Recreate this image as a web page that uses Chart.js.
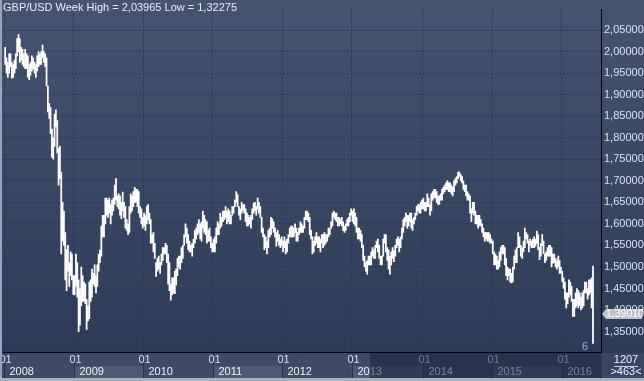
<!DOCTYPE html>
<html><head><meta charset="utf-8">
<script src="https://cdn.jsdelivr.net/npm/chart.js@4.4.1/dist/chart.umd.min.js"></script>
<style>html,body{margin:0;padding:0;background:#2f3c58;overflow:hidden}</style>
</head><body><canvas id="c" width="644" height="381"></canvas>
<script>
const titleText = 'GBP/USD Week High = 2,03965 Low = 1,32275';
const years = ['2008','2009','2010','2011','2012','2013','2014','2015','2016'];
const yearStart = [0,52,104,156,208,260,313,365,417];
const yTicks = [2.05,2.00,1.95,1.90,1.85,1.80,1.75,1.70,1.65,1.60,1.55,1.50,1.45,1.40,1.35];
const lastClose = 1.3901;
const barCount = '1207';
const barRange = '>463<';

const lows = [
// 2008
1.970,1.950,1.940,1.950,1.965,1.938,1.940,1.950,1.960,1.990,2.000,1.975,1.980,1.970,1.965,1.960,1.960,1.940,1.935,1.945,1.955,1.960,1.950,1.940,1.955,1.965,1.970,1.970,1.985,1.975,1.965,1.920,1.860,1.845,1.810,1.755,1.750,1.780,1.825,1.765,1.690,1.705,1.530,1.560,1.550,1.470,1.445,1.490,1.455,1.480,1.470,1.436,
// 2009
1.435,1.455,1.430,1.350,1.365,1.410,1.420,1.420,1.415,1.355,1.375,1.380,1.420,1.430,1.460,1.455,1.440,1.455,1.490,1.510,1.525,1.570,1.570,1.600,1.620,1.615,1.625,1.600,1.620,1.630,1.645,1.655,1.640,1.635,1.620,1.612,1.630,1.615,1.590,1.585,1.575,1.580,1.625,1.630,1.640,1.650,1.650,1.640,1.625,1.615,1.600,1.590,
// 2010
1.595,1.585,1.600,1.610,1.600,1.555,1.555,1.535,1.520,1.478,1.490,1.495,1.485,1.505,1.515,1.530,1.530,1.510,1.460,1.445,1.423,1.435,1.440,1.438,1.458,1.480,1.500,1.495,1.510,1.520,1.550,1.570,1.555,1.540,1.535,1.535,1.525,1.545,1.555,1.565,1.575,1.580,1.565,1.560,1.590,1.580,1.575,1.555,1.560,1.560,1.545,1.535,
// 2011
1.535,1.535,1.555,1.575,1.575,1.590,1.595,1.605,1.610,1.615,1.600,1.605,1.600,1.600,1.620,1.625,1.640,1.650,1.640,1.620,1.610,1.625,1.630,1.625,1.605,1.595,1.595,1.600,1.590,1.610,1.625,1.630,1.620,1.635,1.625,1.615,1.580,1.570,1.540,1.545,1.530,1.545,1.570,1.575,1.590,1.580,1.570,1.548,1.560,1.550,1.545,1.550,
// 2012
1.535,1.545,1.530,1.535,1.555,1.570,1.570,1.570,1.570,1.580,1.560,1.560,1.575,1.580,1.580,1.580,1.590,1.610,1.610,1.605,1.575,1.565,1.530,1.535,1.550,1.555,1.545,1.545,1.535,1.555,1.545,1.550,1.555,1.560,1.570,1.575,1.590,1.595,1.615,1.610,1.605,1.595,1.595,1.600,1.595,1.585,1.580,1.585,1.595,1.595,1.605,1.620,
// 2013
1.605,1.600,1.595,1.580,1.565,1.565,1.560,1.545,1.515,1.500,1.490,1.483,1.505,1.505,1.505,1.525,1.520,1.520,1.545,1.535,1.520,1.505,1.505,1.525,1.555,1.535,1.515,1.495,1.483,1.505,1.520,1.512,1.525,1.545,1.550,1.535,1.545,1.565,1.580,1.595,1.605,1.590,1.595,1.605,1.590,1.585,1.600,1.610,1.620,1.630,1.625,1.625,1.635,
// 2014
1.635,1.630,1.630,1.640,1.640,1.620,1.630,1.655,1.660,1.660,1.650,1.645,1.645,1.655,1.655,1.670,1.675,1.680,1.680,1.675,1.675,1.670,1.665,1.675,1.690,1.695,1.705,1.710,1.700,1.695,1.680,1.675,1.665,1.655,1.655,1.625,1.605,1.625,1.620,1.600,1.600,1.590,1.595,1.595,1.580,1.570,1.560,1.565,1.560,1.560,1.555,1.555,
// 2015
1.530,1.505,1.505,1.495,1.495,1.500,1.515,1.530,1.530,1.505,1.480,1.470,1.480,1.465,1.463,1.465,1.495,1.510,1.510,1.545,1.545,1.525,1.520,1.535,1.545,1.565,1.555,1.535,1.550,1.545,1.545,1.545,1.548,1.555,1.540,1.517,1.525,1.550,1.530,1.510,1.515,1.525,1.525,1.525,1.500,1.508,1.510,1.500,1.495,1.500,1.485,1.485,
// 2016
1.465,1.450,1.425,1.405,1.415,1.430,1.435,1.420,1.385,1.385,1.405,1.410,1.405,1.410,1.400,1.405,1.410,1.440,1.440,1.425,1.435,1.440,1.405,1.32275
];
const highs = [
// 2008
2.010,1.985,1.975,1.995,1.995,1.975,1.970,1.980,1.995,2.030,2.040,2.030,2.010,2.005,1.995,2.005,1.995,1.990,1.970,1.975,1.990,1.985,1.975,1.970,1.990,2.000,1.995,2.000,2.015,2.000,1.995,1.985,1.920,1.880,1.870,1.820,1.800,1.855,1.865,1.840,1.775,1.780,1.720,1.650,1.630,1.580,1.540,1.550,1.510,1.535,1.530,1.480,
// 2009
1.480,1.530,1.510,1.470,1.450,1.500,1.480,1.465,1.460,1.425,1.410,1.465,1.470,1.495,1.485,1.505,1.480,1.505,1.530,1.540,1.595,1.620,1.620,1.660,1.660,1.655,1.660,1.645,1.655,1.660,1.690,1.705,1.665,1.670,1.665,1.650,1.674,1.650,1.640,1.610,1.600,1.640,1.670,1.665,1.675,1.685,1.680,1.680,1.675,1.640,1.635,1.615,
// 2010
1.625,1.620,1.640,1.645,1.625,1.610,1.575,1.580,1.555,1.510,1.520,1.525,1.510,1.530,1.545,1.545,1.555,1.550,1.530,1.510,1.460,1.475,1.475,1.490,1.495,1.520,1.525,1.525,1.545,1.550,1.575,1.600,1.590,1.575,1.560,1.550,1.555,1.565,1.585,1.590,1.600,1.610,1.600,1.605,1.630,1.620,1.610,1.605,1.585,1.590,1.570,1.555,
// 2011
1.565,1.570,1.590,1.605,1.600,1.625,1.615,1.630,1.630,1.640,1.630,1.635,1.630,1.620,1.640,1.640,1.655,1.675,1.668,1.640,1.635,1.650,1.645,1.645,1.635,1.625,1.620,1.615,1.620,1.635,1.648,1.650,1.640,1.660,1.650,1.640,1.615,1.590,1.575,1.570,1.560,1.585,1.590,1.615,1.612,1.605,1.590,1.580,1.585,1.575,1.565,1.570,
// 2012
1.560,1.570,1.560,1.565,1.575,1.590,1.595,1.595,1.590,1.600,1.590,1.580,1.590,1.605,1.600,1.595,1.615,1.630,1.630,1.625,1.615,1.585,1.570,1.560,1.570,1.580,1.570,1.570,1.565,1.575,1.575,1.580,1.575,1.575,1.590,1.590,1.605,1.625,1.630,1.625,1.625,1.615,1.615,1.612,1.615,1.605,1.595,1.600,1.610,1.615,1.625,1.635,
// 2013
1.630,1.635,1.625,1.615,1.590,1.590,1.585,1.575,1.550,1.525,1.510,1.515,1.525,1.525,1.535,1.545,1.540,1.550,1.560,1.565,1.550,1.525,1.525,1.565,1.575,1.575,1.545,1.540,1.525,1.535,1.545,1.538,1.550,1.565,1.570,1.565,1.570,1.590,1.610,1.615,1.625,1.620,1.620,1.625,1.625,1.610,1.615,1.625,1.640,1.645,1.645,1.650,1.655,
// 2014
1.660,1.650,1.650,1.670,1.660,1.645,1.670,1.675,1.680,1.680,1.675,1.665,1.665,1.670,1.680,1.685,1.690,1.695,1.700,1.695,1.695,1.690,1.685,1.700,1.705,1.710,1.720,1.720,1.715,1.710,1.700,1.690,1.690,1.675,1.670,1.665,1.635,1.650,1.650,1.630,1.620,1.620,1.620,1.610,1.600,1.590,1.580,1.580,1.580,1.580,1.575,1.565,
// 2015
1.560,1.535,1.530,1.525,1.515,1.535,1.545,1.550,1.550,1.545,1.520,1.500,1.495,1.495,1.485,1.500,1.525,1.540,1.545,1.580,1.570,1.550,1.545,1.560,1.590,1.580,1.575,1.560,1.565,1.560,1.565,1.570,1.565,1.583,1.575,1.545,1.555,1.575,1.560,1.530,1.535,1.545,1.550,1.550,1.545,1.530,1.530,1.520,1.515,1.525,1.515,1.500,
// 2016
1.490,1.475,1.465,1.440,1.440,1.470,1.465,1.455,1.425,1.425,1.440,1.450,1.445,1.440,1.430,1.440,1.445,1.465,1.465,1.450,1.470,1.470,1.475,1.5018
];

const FONT = "'Liberation Sans Narrow', 'Arial Narrow', 'Liberation Sans', Arial, sans-serif";
const fmt = v => v.toFixed(5).replace('.', ',');

const bars = lows.map((lo, i) => ({ x: i, y: [lo, highs[i]] }));

const decor = {
  id: 'decor',
  beforeDraw(chart) {
    const { ctx, width, height } = chart;
    const g = ctx.createLinearGradient(0, 0, 0, height);
    g.addColorStop(0, '#46546f');
    g.addColorStop(1, '#2c3955');
    ctx.save();
    ctx.fillStyle = g;
    ctx.fillRect(0, 0, width, height);
    ctx.restore();
  },
  afterDraw(chart) {
    const { ctx, chartArea: a } = chart;
    const xs = chart.scales.x, ys = chart.scales.y;
    ctx.save();
    const top = a.bottom + 1, rowMid = top + 13, bot = 378;
    ctx.fillStyle = '#3d4b67';
    ctx.fillRect(0, top, a.right, bot - top);
    for (let k = 0; k < years.length; k++) {
      const x0 = xs.getPixelForValue(yearStart[k] - 0.5);
      const x1 = k + 1 < years.length ? xs.getPixelForValue(yearStart[k + 1] - 0.5) : a.right;
      if (k % 2 === 1) { ctx.fillStyle = '#4d5a71'; ctx.fillRect(x0, rowMid, x1 - x0, bot - rowMid); }
    }
    ctx.font = '11px ' + FONT;
    ctx.textBaseline = 'middle';
    for (let k = 0; k < years.length; k++) {
      const x0 = Math.round(xs.getPixelForValue(yearStart[k] - 0.5)) + 0.5;
      ctx.strokeStyle = '#233456';
      ctx.lineWidth = 1;
      ctx.beginPath(); ctx.moveTo(x0, top); ctx.lineTo(x0, bot); ctx.stroke();
      ctx.fillStyle = '#cfe0f5';
      ctx.textAlign = 'center';
      ctx.fillText('01', x0 + 1, top + 7);
      ctx.fillStyle = '#eef2f8';
      ctx.textAlign = 'left';
      ctx.fillText(years[k], x0 + 5, rowMid + 6);
    }
    ctx.fillStyle = 'rgba(24,34,56,0.55)';
    ctx.fillRect(370, top, a.right - 370, bot - top);
    ctx.fillStyle = '#a9b2c1';
    ctx.fillRect(0, bot, 644, 381 - bot);
    ctx.fillStyle = '#9aa4b6';
    ctx.fillRect(0, 0, 2, bot);
    ctx.fillStyle = '#3a4763';
    ctx.fillRect(a.right + 1, top, 644 - a.right - 1, bot - top);
    ctx.fillStyle = '#eef2f8';
    ctx.textAlign = 'center';
    ctx.fillText(barCount, 626, top + 7);
    ctx.fillText(barRange, 626, rowMid + 6);
    ctx.strokeStyle = '#c8d0dc';
    ctx.beginPath(); ctx.moveTo(614, rowMid + 0.5); ctx.lineTo(638, rowMid + 0.5); ctx.stroke();
    ctx.textAlign = 'left';
    ctx.fillStyle = '#e8eef6';
    ctx.fillText(titleText, 3, 8);
    ctx.fillStyle = '#8fbbe8';
    ctx.fillText('6', 582, a.bottom - 5);
    const ty = Math.round(ys.getPixelForValue(lastClose));
    ctx.fillStyle = '#bfc3c9';
    ctx.beginPath();
    ctx.moveTo(a.right + 1, ty);
    ctx.lineTo(a.right + 5, ty - 5);
    ctx.lineTo(642, ty - 5);
    ctx.lineTo(642, ty + 5);
    ctx.lineTo(a.right + 5, ty + 5);
    ctx.closePath();
    ctx.fill();
    ctx.fillStyle = '#ffffff';
    ctx.font = '10.5px ' + FONT;
    ctx.textAlign = 'left';
    ctx.fillText(fmt(lastClose), a.right + 5, ty + 0.5);
    ctx.restore();
  }
};

new Chart(document.getElementById('c'), {
  type: 'bar',
  data: {
    datasets: [{
      data: bars,
      backgroundColor: '#ffffff',
      borderWidth: 0,
      barThickness: 1.1
    }]
  },
  options: {
    responsive: false,
    animation: false,
    devicePixelRatio: 1,
    layout: { padding: { left: 3, top: 0, right: 0, bottom: 0 } },
    plugins: { legend: { display: false }, tooltip: { enabled: false } },
    scales: {
      x: {
        type: 'linear',
        offset: false,
        min: -1.6,
        max: 446,
        afterBuildTicks: s => { s.ticks = yearStart.map(v => ({ value: v - 0.5 })); },
        afterFit: s => { s.height = 29; },
        ticks: { display: false },
        grid: { color: '#1b3866', drawTicks: false, lineWidth: 1, offset: false },
        border: { color: '#000000', width: 1, dash: [2, 2] }
      },
      y: {
        type: 'linear',
        position: 'right',
        min: 1.3026,
        max: 2.0974,
        afterBuildTicks: s => { s.ticks = yTicks.map(v => ({ value: v })); },
        afterFit: s => { s.width = 43; },
        ticks: { callback: v => fmt(v), color: '#d6e2f2', font: { family: FONT, size: 11 }, padding: 3 },
        grid: { color: '#1b3866', drawTicks: false, lineWidth: 1 },
        border: { color: '#000000', width: 1, dash: [2, 2] }
      }
    }
  },
  plugins: [decor]
});
</script>
</body></html>
